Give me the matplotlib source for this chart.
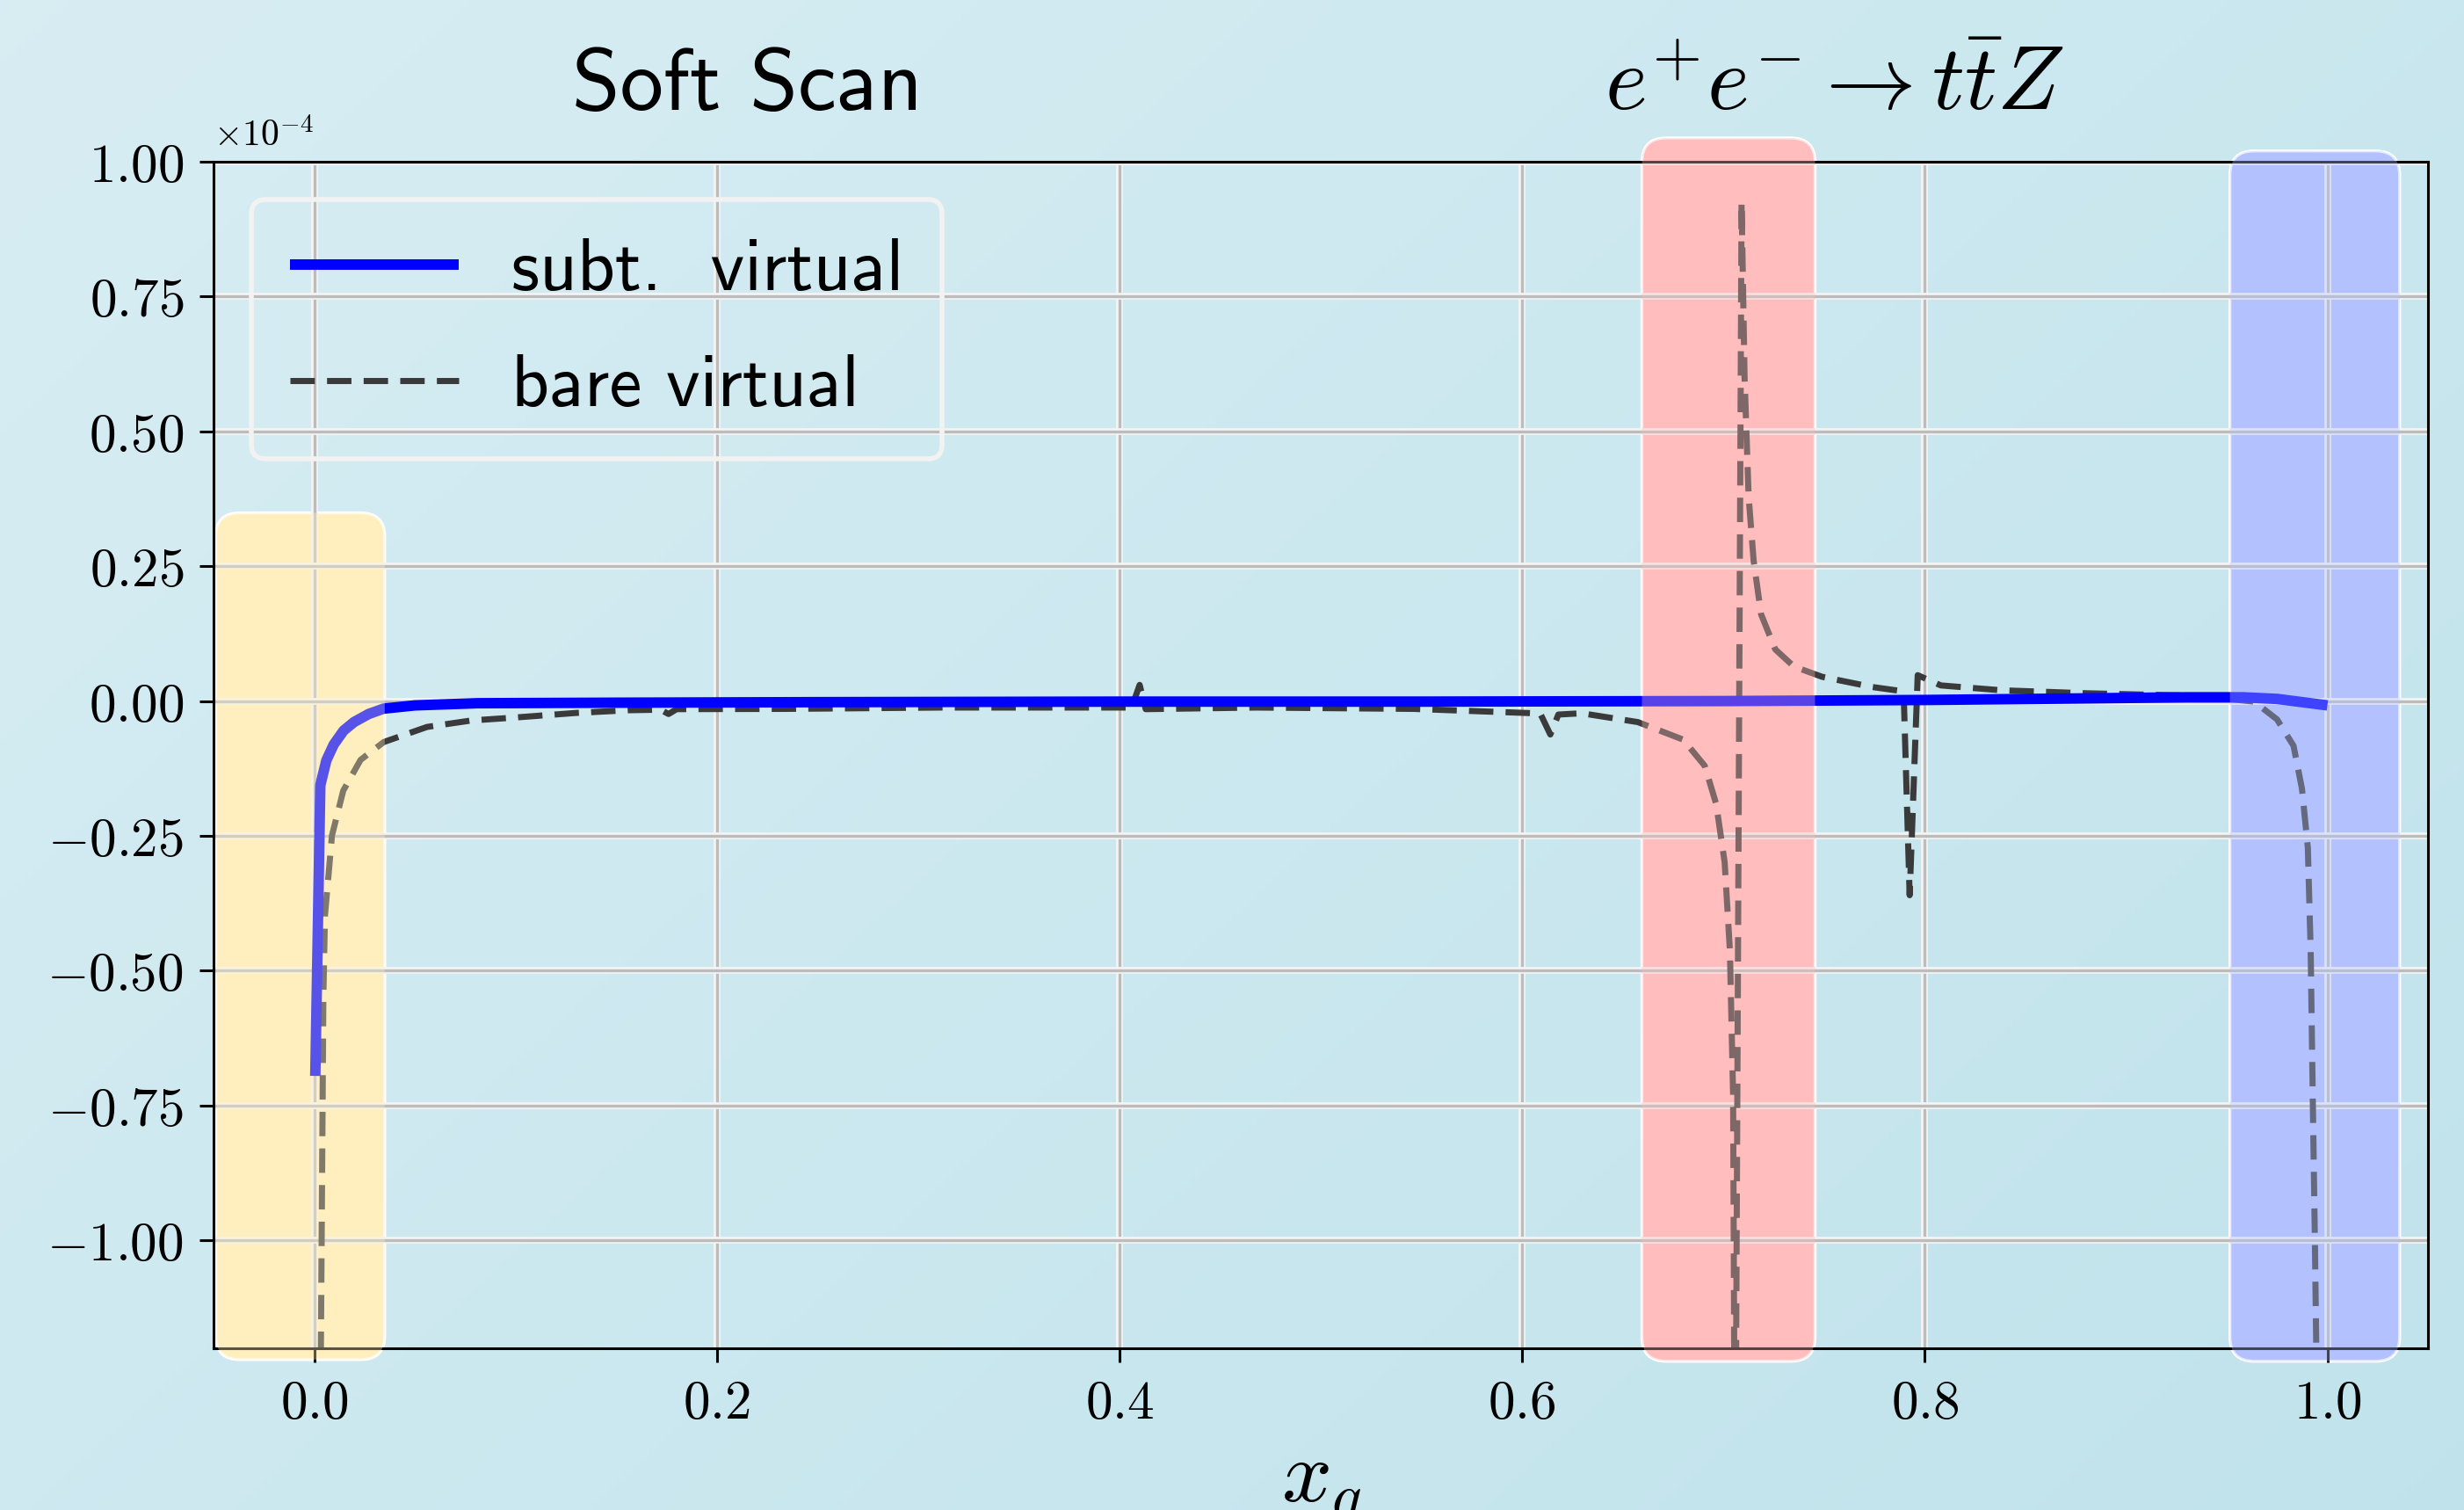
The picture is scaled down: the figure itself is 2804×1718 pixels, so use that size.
import numpy as np
import matplotlib
matplotlib.use('Agg')
import matplotlib.pyplot as plt
import matplotlib.patheffects as pe
from matplotlib.patches import FancyBboxPatch
from matplotlib.ticker import FuncFormatter

plt.rcParams['mathtext.fontset'] = 'cm'

# subtracted virtual (values in units of 1e-4)
x_subt = [0.0005, 0.003, 0.006, 0.0096, 0.0145, 0.0197, 0.027, 0.0345, 0.05, 0.081,
          0.15, 0.25, 0.4, 0.55, 0.7, 0.8, 0.88, 0.93, 0.958, 0.975, 1.0]
y_subt = [-0.695, -0.156, -0.11, -0.081, -0.055, -0.039, -0.024, -0.014, -0.008, -0.004,
          -0.003, -0.002, -0.001, -0.001, 0.0, 0.002, 0.005, 0.007, 0.007, 0.004, -0.008]

# bare virtual
x_bare = [0.003, 0.0045, 0.0053, 0.0088, 0.0144, 0.023, 0.0345, 0.056, 0.078, 0.098,
          0.13, 0.156, 0.172, 0.176, 0.18, 0.234, 0.312, 0.39, 0.406, 0.41, 0.413,
          0.468, 0.546, 0.609, 0.614, 0.618, 0.6296, 0.6575, 0.68, 0.6907, 0.6964,
          0.7006, 0.7032, 0.7048, 0.7058, 0.709, 0.7105, 0.7125, 0.715, 0.7187, 0.7257,
          0.735, 0.749, 0.774, 0.7895, 0.7925, 0.7965, 0.808, 0.838, 0.88, 0.936,
          0.9636, 0.975, 0.9832, 0.9874, 0.9903, 0.9917, 0.9928, 0.9938, 0.995]
y_bare = [-1.35, -0.55, -0.398, -0.249, -0.166, -0.109, -0.076, -0.048, -0.036, -0.031,
          -0.022, -0.017, -0.016, -0.024, -0.015, -0.0145, -0.012, -0.012, -0.012, 0.03, -0.015,
          -0.012, -0.0145, -0.023, -0.062, -0.025, -0.0226, -0.039, -0.0715, -0.12, -0.191,
          -0.299, -0.462, -0.73, -1.6, 0.926, 0.6, 0.38, 0.26, 0.161, 0.096,
          0.064, 0.045, 0.026, 0.018, -0.36, 0.048, 0.029, 0.020, 0.0145, 0.0096,
          -0.001, -0.034, -0.083, -0.163, -0.272, -0.462, -0.75, -1.0, -1.35]

# highlighted regions (x0, x1, y0, y1) in plot units
hl_x0 = [-0.049, 0.6595, 0.9516]
hl_x1 = [0.035, 0.7455, 1.0359]
hl_y0 = [-1.221, -1.224, -1.224]
hl_y1 = [0.349, 1.044, 1.020]
hl_colors = ['#FFEFBF', '#FFBDBD', '#B3C2FF']

scale = 1e-4
xlim = (-0.05, 1.05)
ylim = (-1.2 * scale, 1.0 * scale)

fig = plt.figure(figsize=(14.02, 8.59), dpi=200)

# slide background gradient
bg = fig.add_axes([0, 0, 1, 1], zorder=-5)
gy, gx = np.mgrid[0:1:200j, 0:1:300j]
t = (0.6 * gx + 0.4 * gy)[..., None]
c_top = np.array([0.845, 0.930, 0.953])
c_bot = np.array([0.755, 0.890, 0.925])
bg.imshow(c_top * (1 - t) + c_bot * t, extent=[0, 1, 0, 1], aspect='auto', origin='upper')
bg.axis('off')

ax = fig.add_axes([0.0867, 0.1071, 0.8987, 0.7858])
ax.set_facecolor('none')
ax.set_xlim(*xlim)
ax.set_ylim(*ylim)

# aspect factor so the rounded corners look circular
ax_w = 0.8987 * 14.02
ax_h = 0.7858 * 8.59
aspect = (ax_w / (xlim[1] - xlim[0])) / (ax_h / (ylim[1] - ylim[0]))

# highlight boxes: opaque underlay plus a light tint on top of the curves
for x0, x1, y0, y1, c in zip(hl_x0, hl_x1, hl_y0, hl_y1, hl_colors):
    for z, a, ec in [(0.2, 1.0, 'white'), (4, 0.35, 'none')]:
        box = FancyBboxPatch((x0, y0 * scale), x1 - x0, (y1 - y0) * scale,
                             boxstyle='round,pad=0,rounding_size=0.012',
                             mutation_aspect=aspect, facecolor=c, edgecolor=ec,
                             linewidth=1.2, alpha=a, zorder=z, clip_on=False)
        ax.add_patch(box)

ax.plot(x_subt, np.array(y_subt) * scale, color='#0000ff', lw=4.3,
        solid_capstyle='butt', label='subt.  virtual', zorder=3)
ax.plot(x_bare, np.array(y_bare) * scale, color='#3a3a3a', lw=2.5,
        linestyle=(0, (4.0, 2.0)), label='bare virtual', zorder=2.5)

ax.set_axisbelow(True)
ax.grid(True, color='#bcbcbc', lw=1.2,
        path_effects=[pe.withStroke(linewidth=2.8, foreground='#f4f4f4')])

ax.set_xticks([0.0, 0.2, 0.4, 0.6, 0.8, 1.0])
ax.set_yticks(np.array([-1.0, -0.75, -0.5, -0.25, 0.0, 0.25, 0.5, 0.75, 1.0]) * scale)
ax.xaxis.set_major_formatter(FuncFormatter(lambda v, p: f'${v:.1f}$'))
ax.yaxis.set_major_formatter(FuncFormatter(lambda v, p: f'${round(v / scale, 2) + 0.0:.2f}$'))
ax.tick_params(direction='out', length=5.8, width=1.1, pad=6.5, labelsize=22)
for s in ax.spines.values():
    s.set_linewidth(1.1)
    s.set_color('black')

ax.text(0.0, 1.006, r'$\times10^{-4}$', transform=ax.transAxes, fontsize=15,
        ha='left', va='bottom')

ax.set_xlabel(r'$x_q$', fontsize=36)
ax.xaxis.set_label_coords(0.5, -0.082)

ax.text(0.241, 1.0437, 'Soft Scan', transform=ax.transAxes, fontsize=35.5,
        family='cmss10', ha='center', va='baseline')
ax.text(0.732, 1.0437, r'$e^{+}e^{-}\to t\bar{t}Z$', transform=ax.transAxes,
        fontsize=37, ha='center', va='baseline')

leg = ax.legend(loc='upper left', bbox_to_anchor=(0.017, 0.968), borderaxespad=0,
                prop={'family': 'cmss10', 'size': 30}, handlelength=2.3,
                handletextpad=0.72, labelspacing=0.68, borderpad=0.53,
                fancybox=True, facecolor='none', edgecolor='#f2f2f2', framealpha=1)
leg.get_frame().set_linewidth(2.0)
leg.set_zorder(5)

fig.savefig('out.png', dpi=200)
